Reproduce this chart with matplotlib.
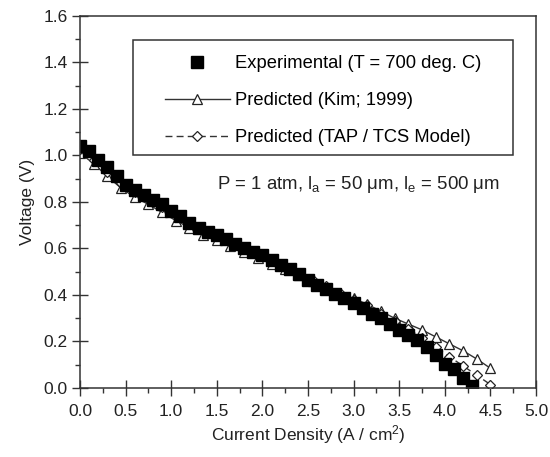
import matplotlib
matplotlib.use("Agg")
import matplotlib.pyplot as plt
from matplotlib.patches import Rectangle
from matplotlib.ticker import MultipleLocator

plt.rcParams['font.family'] = ['Liberation Sans', 'DejaVu Sans']
plt.rcParams['mathtext.default'] = 'regular'

# experimental data (T = 700 deg. C)
exp_j = [0.0, 0.1, 0.2, 0.3, 0.4, 0.5, 0.6, 0.7, 0.8, 0.9, 1.0, 1.1, 1.2, 1.3, 1.4,
         1.5, 1.6, 1.7, 1.8, 1.9, 2.0, 2.1, 2.2, 2.3, 2.4, 2.5, 2.6, 2.7, 2.8, 2.9,
         3.0, 3.1, 3.2, 3.3, 3.4, 3.5, 3.6, 3.7, 3.8, 3.9, 4.0, 4.1, 4.2, 4.3]
exp_v = [1.04, 1.02, 0.98, 0.95, 0.91, 0.875, 0.85, 0.83, 0.81, 0.79, 0.76, 0.74, 0.71, 0.69, 0.67,
         0.66, 0.64, 0.62, 0.60, 0.585, 0.57, 0.55, 0.53, 0.51, 0.49, 0.465, 0.445, 0.425, 0.405, 0.385,
         0.365, 0.345, 0.32, 0.30, 0.275, 0.25, 0.23, 0.205, 0.175, 0.14, 0.105, 0.08, 0.045, 0.01]

# model predictions
mod_j = [0.0, 0.15, 0.3, 0.45, 0.6, 0.75, 0.9, 1.05, 1.2, 1.35, 1.5, 1.65, 1.8, 1.95, 2.1,
         2.25, 2.4, 2.55, 2.7, 2.85, 3.0, 3.15, 3.3, 3.45, 3.6, 3.75, 3.9, 4.05, 4.2, 4.35, 4.5]
kim_v = [1.01, 0.965, 0.91, 0.86, 0.82, 0.79, 0.755, 0.72, 0.69, 0.66, 0.635, 0.61, 0.585, 0.56, 0.535,
         0.51, 0.485, 0.46, 0.435, 0.41, 0.385, 0.36, 0.33, 0.30, 0.275, 0.25, 0.22, 0.19, 0.16, 0.125, 0.085]
tap_v = [1.03, 0.98, 0.93, 0.88, 0.845, 0.815, 0.78, 0.745, 0.715, 0.685, 0.655, 0.63, 0.60, 0.575, 0.55,
         0.52, 0.495, 0.465, 0.44, 0.41, 0.38, 0.355, 0.32, 0.29, 0.255, 0.215, 0.175, 0.135, 0.095, 0.055, 0.015]

fig = plt.figure(figsize=(5.5, 4.57), dpi=100)
ax = fig.add_axes([0.1455, 0.151, 0.829, 0.814])

ax.plot(mod_j, kim_v, '-', color='#333333', lw=1.0, marker='^', ms=7.5,
        mfc='white', mec='#222222', mew=0.9, label='Predicted (Kim; 1999)')
ax.plot(mod_j, tap_v, '--', color='#333333', lw=1.0, dashes=(5, 3), marker='D', ms=5.5,
        mfc='white', mec='#222222', mew=0.9, label='Predicted (TAP / TCS Model)')
ax.plot(exp_j, exp_v, 's', color='black', ms=8, label='Experimental (T = 700 deg. C)')

ax.set_xlim(0, 5.0)
ax.set_ylim(0, 1.6)
ax.xaxis.set_major_locator(MultipleLocator(0.5))
ax.xaxis.set_minor_locator(MultipleLocator(0.25))
ax.yaxis.set_major_locator(MultipleLocator(0.2))
ax.yaxis.set_minor_locator(MultipleLocator(0.1))
ax.xaxis.set_major_formatter('{x:.1f}')
ax.yaxis.set_major_formatter('{x:.1f}')
ax.tick_params(which='major', direction='inout', length=11, width=1, labelsize=12.5,
               color='#333333', labelcolor='#222222')
ax.tick_params(which='minor', direction='out', length=3.5, width=1, color='#333333')
ax.tick_params(axis='x', which='major', pad=6)
ax.tick_params(axis='y', which='major', pad=3.5)
ax.tick_params(top=False, right=False)
for s in ax.spines.values():
    s.set_linewidth(1.1)
    s.set_color('#333333')

ax.set_xlabel('Current Density (A / cm$^{2}$)', fontsize=12.5, color='#222222', labelpad=3)
ax.set_ylabel('Voltage (V)', fontsize=12.5, color='#222222', labelpad=6)

h, l = ax.get_legend_handles_labels()
order = [2, 0, 1]
ax.legend([h[i] for i in order], [l[i] for i in order], loc='upper left',
          bbox_to_anchor=(0.186, 0.895), frameon=False, borderaxespad=0, borderpad=0,
          fontsize=13.2, handlelength=3.55, handletextpad=0.3, labelspacing=1.1)
ax.add_patch(Rectangle((0.116, 0.626), 0.834, 0.309, transform=ax.transAxes,
                       fill=False, edgecolor='#333333', lw=1.1, zorder=5))

ax.text(0.300, 0.546, 'P = 1 atm, l$_{a}$ = 50 \u03bcm, l$_{e}$ = 500 \u03bcm',
        transform=ax.transAxes, ha='left', va='center', fontsize=13.4, color='#222222')

fig.savefig('out.png', dpi=100)
